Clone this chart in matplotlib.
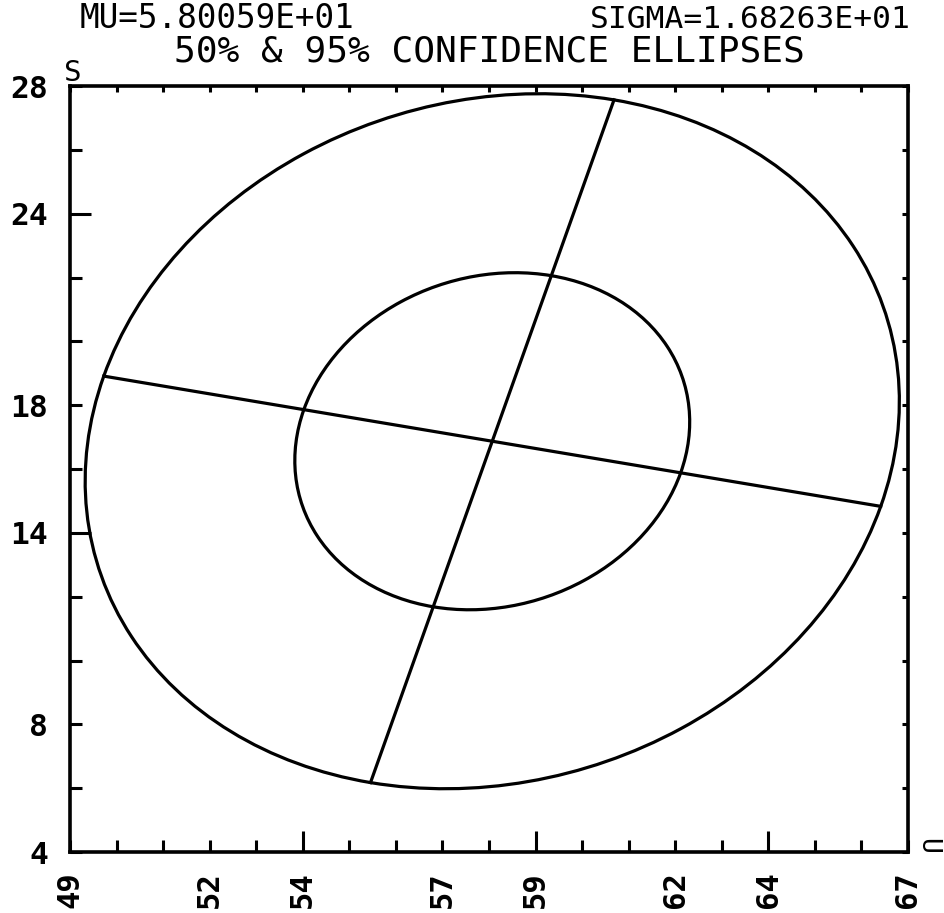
import matplotlib
matplotlib.use("Agg")
import numpy as np
import matplotlib.pyplot as plt
from matplotlib.patches import Ellipse

# ---- text ----
mu_text = "MU=5.80059E+01"
sigma_text = "SIGMA=1.68263E+01"
title_text = "50% & 95% CONFIDENCE ELLIPSES"
x_name = "U"
y_name = "S"

# ---- ellipse parameters (data units) ----
center_x = 58.07
center_y = 16.87
half_axis_1 = 8.59        # half length along the tilted direction
half_axis_2 = 11.01       # half length perpendicular to it
tilt_deg = -13.74
level_names = ["50%", "95%"]
level_scales = [0.485, 1.0]

# ---- axes / ticks ----
x_min, x_max = 49, 67
y_min, y_max = 4, 28
x_ticks = list(range(49, 68))
x_long_ticks = [54, 59, 64]
x_label_ticks = [49, 52, 54, 57, 59, 62, 64, 67]
y_ticks = list(range(4, 29, 2))
y_long_ticks = [14, 24]
y_label_ticks = [4, 8, 14, 18, 24, 28]

MONO = "DejaVu Sans Mono"
W, H = 945, 913
PX = 72 / 100  # points per pixel

fig = plt.figure(figsize=(W / 100, H / 100), dpi=100, facecolor="white")
L, R, T, B = 70, 908, 86, 852
ax = fig.add_axes([L / W, 1 - B / H, (R - L) / W, (B - T) / H])
ax.set_xlim(x_min, x_max)
ax.set_ylim(y_min, y_max)
for s in ax.spines.values():
    s.set_linewidth(2.6)
    s.set_color("black")

LW = 2.3
# ellipses
for sc in level_scales:
    e = Ellipse((center_x, center_y), 2 * half_axis_1 * sc, 2 * half_axis_2 * sc,
                angle=tilt_deg, fill=False, edgecolor="black", linewidth=LW)
    ax.add_patch(e)

# principal axes of the outer ellipse
th = np.deg2rad(tilt_deg)
u = np.array([np.cos(th), np.sin(th)])
v = np.array([-np.sin(th), np.cos(th)])
c = np.array([center_x, center_y])
p1, p2 = c - half_axis_1 * u, c + half_axis_1 * u
q1, q2 = c - half_axis_2 * v, c + half_axis_2 * v
ax.plot([p1[0], p2[0]], [p1[1], p2[1]], color="black", lw=LW)
ax.plot([q1[0], q2[0]], [q1[1], q2[1]], color="black", lw=LW)

# bottom/left ticks: long (major) + short (minor)
ax.set_xticks(x_long_ticks)
ax.set_xticks(x_ticks, minor=True)
ax.set_yticks(y_long_ticks)
ax.set_yticks(y_ticks, minor=True)
ax.tick_params(which="major", direction="in", length=21 * PX, width=2.2,
               labelbottom=False, labelleft=False, bottom=True, left=True,
               top=False, right=False)
ax.tick_params(which="minor", direction="in", length=12 * PX, width=2.2,
               bottom=True, left=True, top=False, right=False)

# top ticks
top = ax.secondary_xaxis("top")
top.set_xticks(x_ticks)
top.tick_params(direction="in", length=6 * PX, width=2.2, labeltop=False)
top.spines["top"].set_visible(False)
# right ticks
right = ax.secondary_yaxis("right")
right.set_yticks(y_ticks)
right.tick_params(direction="in", length=6 * PX, width=2.2, labelright=False)
right.spines["right"].set_visible(False)

# tick labels
bl = ax.secondary_xaxis("bottom")
bl.set_xticks(x_label_ticks)
bl.set_xticklabels([str(t) for t in x_label_ticks], rotation=90,
                   fontsize=22, family=MONO, fontweight="bold")
bl.tick_params(length=0, pad=19 * PX)
bl.spines["bottom"].set_visible(False)

ll = ax.secondary_yaxis("left")
ll.set_yticks(y_label_ticks)
ll.set_yticklabels([str(t) for t in y_label_ticks], fontsize=22.5, family=MONO,
                   fontweight="bold")
ll.tick_params(length=0, pad=22 * PX)
ll.spines["left"].set_visible(False)

# titles
fig.text(80 / W, 1 - 19 / H, mu_text, ha="left", va="center", fontsize=23.5, family=MONO)
fig.text(911 / W, 1 - 19 / H, sigma_text, ha="right", va="center", fontsize=22.5, family=MONO)
fig.text(489 / W, 1 - 51 / H, title_text, ha="center", va="center", fontsize=26, family=MONO)

# axis names
fig.text(64 / W, 1 - 81 / H, y_name, ha="left", va="baseline", fontsize=21, family=MONO)
fig.text(927 / W, 1 - 846 / H, x_name, ha="center", va="center", rotation=-90,
         fontsize=19, family=MONO)

fig.savefig("out.png", dpi=100, facecolor="white")
